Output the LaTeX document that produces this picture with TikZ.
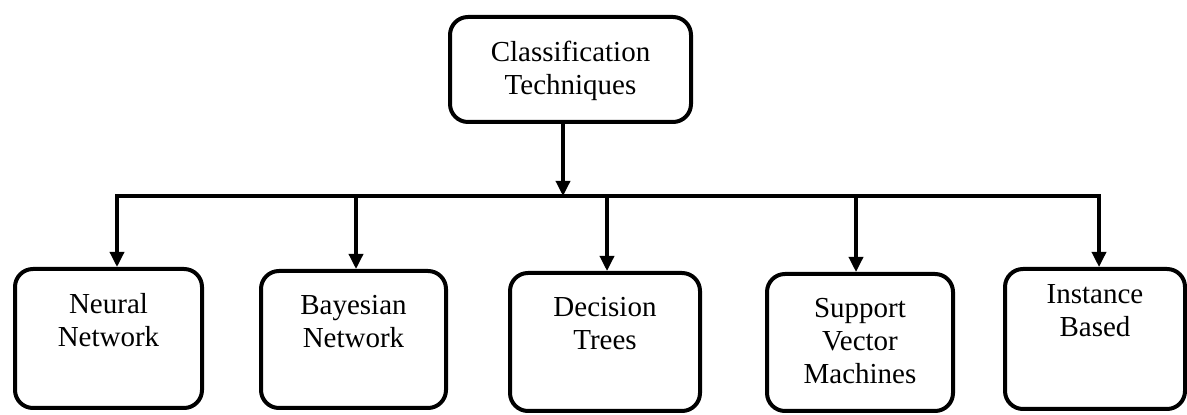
\documentclass[tikz,border=0pt]{standalone}
\usepackage{fontspec}
\setmainfont{Liberation Serif}
\usetikzlibrary{arrows.meta}
\begin{document}
\begin{tikzpicture}[x=0.5pt,y=-0.5pt,
  box/.style={draw, line width=2pt, rounded corners=9pt, inner sep=0pt},
  lbl/.style={anchor=north, inner sep=0pt, align=center, font=\fontsize{14.5}{16.5}\selectfont},
  conn/.style={line width=1.7pt},
  arr/.style={conn, -{Triangle[length=7.5pt,width=7pt]}}]
\useasboundingbox (0,0) rectangle (1187,415);
% boxes
\node[box, minimum width=120.5pt, minimum height=52.5pt] (top) at (570.5,69.5) {};
\node[box, minimum width=93.5pt, minimum height=69.5pt] (b1) at (108.5,338.5) {};
\node[box, minimum width=92.5pt, minimum height=68.5pt] (b2) at (353.5,339.5) {};
\node[box, minimum width=95pt, minimum height=69pt] (b3) at (605,342) {};
\node[box, minimum width=93pt, minimum height=68.5pt] (b4) at (860,342.5) {};
\node[box, minimum width=90pt, minimum height=70pt] (b5) at (1095,339) {};
% labels
\node[lbl] (ttop) at (570.5,41) {Classification\\Techniques};
\node[lbl] (t1l) at (108.5,293) {Neural\\Network};
\node[lbl] (t2l) at (353.5,295) {Bayesian\\Network};
\node[lbl] (t3l) at (605,297) {Decision\\Trees};
\node[lbl] (t4l) at (860,298) {Support\\Vector\\Machines};
\node[lbl] (t5l) at (1095,284) {Instance\\Based};
% connectors
\coordinate (j) at (563,196);
\coordinate (c1) at (117,196);
\coordinate (c2) at (356,196);
\coordinate (c3) at (607,196);
\coordinate (c4) at (856,196);
\coordinate (c5) at (1099,196);
\draw[conn, line cap=rect] (c1) -- (c5);
\draw[arr] (j |- top.south) -- (j);
\draw[arr] (c1) -- (c1 |- b1.north);
\draw[arr] (c2) -- (c2 |- b2.north);
\draw[arr] (c3) -- (c3 |- b3.north);
\draw[arr] (c4) -- (c4 |- b4.north);
\draw[arr] (c5) -- (c5 |- b5.north);
\end{tikzpicture}
\end{document}
